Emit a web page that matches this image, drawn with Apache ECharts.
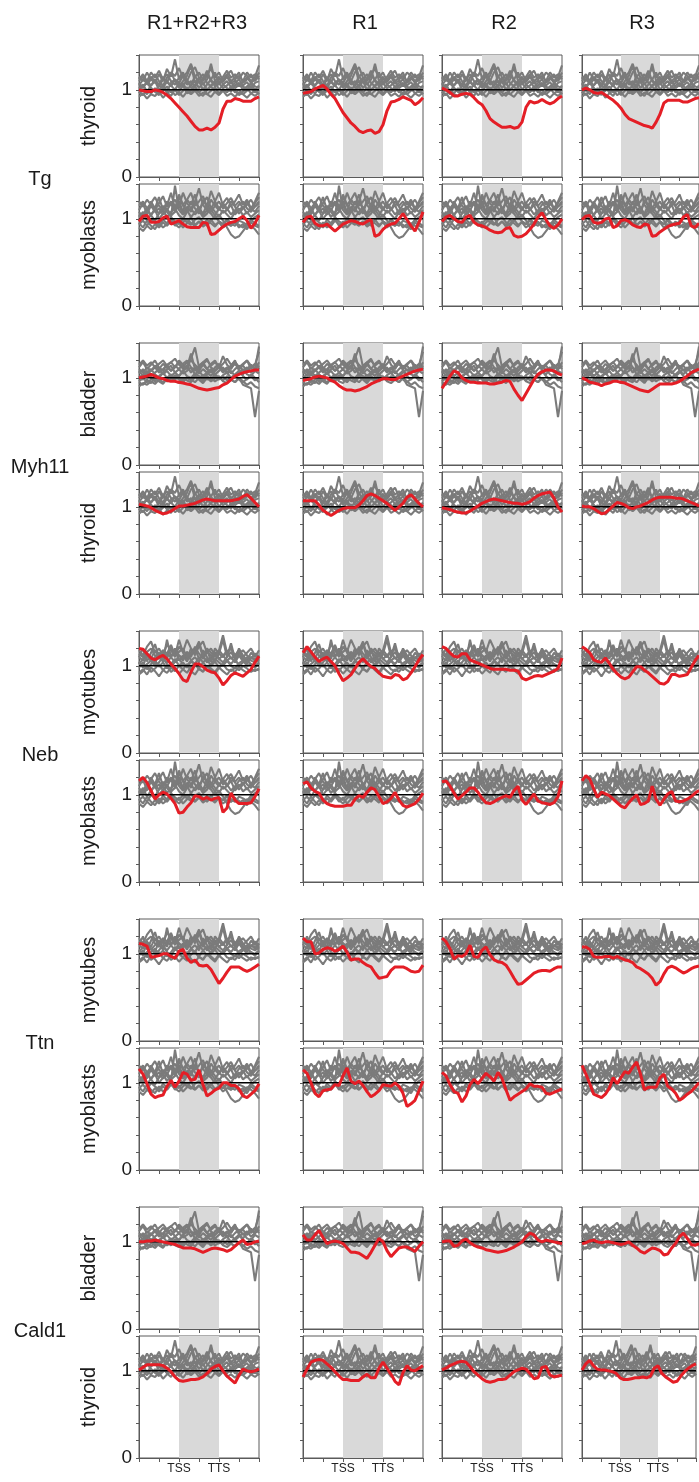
<!DOCTYPE html>
<html>
<head>
<meta charset="utf-8">
<script src="https://cdn.jsdelivr.net/npm/echarts@6.0.0/dist/echarts.min.js"></script>
<style>
html,body{margin:0;padding:0;background:#fff;}
#chart{width:699px;height:1482px;}
</style>
</head>
<body>
<div id="chart"></div>
<script>
// ---------------- DATA ----------------
const COL_TITLES = ['R1+R2+R3', 'R1', 'R2', 'R3'];
const GENES = ['Tg', 'Myh11', 'Neb', 'Ttn', 'Cald1'];
const TISSUES = ['thyroid', 'myoblasts', 'bladder', 'thyroid', 'myotubes', 'myoblasts', 'myotubes', 'myoblasts', 'bladder', 'thyroid'];
const X_TICK_LABELS = {2: 'TSS', 4: 'TTS'};
const Y_TICK_LABELS = {0: '0', 1: '1'};
const SHADE_RANGE = [2, 4];
const REF_LEVEL = 1;
const XPTS = [0,0.2,0.4,0.6,0.8,1,1.2,1.4,1.6,1.8,2,2.2,2.4,2.6,2.8,3,3.2,3.4,3.6,3.8,4,4.2,4.4,4.6,4.8,5,5.2,5.4,5.6,5.8,6];

// red profiles: one array per column (R1+R2+R3, R1, R2, R3)
const red_Tg_thyroid = [
  [1.0,0.99,0.98,0.98,1.0,0.99,0.97,0.94,0.9,0.85,0.8,0.75,0.7,0.64,0.58,0.54,0.54,0.56,0.54,0.57,0.62,0.78,0.87,0.87,0.9,0.89,0.87,0.87,0.87,0.9,0.92],
  [0.96,0.97,0.98,1.01,1.03,1.05,1.01,0.95,0.9,0.82,0.74,0.68,0.62,0.58,0.53,0.51,0.53,0.54,0.5,0.52,0.6,0.76,0.86,0.87,0.89,0.92,0.9,0.88,0.83,0.86,0.91],
  [1.02,1.0,0.97,0.93,0.93,0.95,0.96,0.95,0.91,0.86,0.83,0.76,0.67,0.63,0.6,0.57,0.57,0.58,0.56,0.57,0.63,0.8,0.87,0.85,0.86,0.89,0.86,0.84,0.86,0.9,0.93],
  [1.0,1.02,1.0,0.97,0.96,0.97,0.94,0.91,0.88,0.84,0.79,0.72,0.67,0.65,0.63,0.61,0.59,0.58,0.56,0.63,0.72,0.85,0.88,0.88,0.88,0.88,0.86,0.86,0.88,0.9,0.91]
];
const red_Tg_myoblasts = [
  [0.97,1.03,1.04,0.96,0.96,0.97,1.01,1.03,0.94,0.96,0.98,0.94,0.91,0.9,0.9,0.9,0.96,0.95,0.82,0.83,0.87,0.91,0.94,0.96,0.97,1.0,1.03,0.98,0.89,0.95,1.04],
  [0.96,1.02,1.03,0.95,0.92,0.92,0.94,0.9,0.86,0.9,0.94,0.96,0.98,0.97,0.95,0.94,0.97,0.99,0.8,0.82,0.88,0.92,0.94,0.95,1.0,1.06,0.99,0.92,0.86,0.96,1.08],
  [0.97,1.02,1.04,1.0,0.97,0.96,1.02,1.04,0.96,0.93,0.92,0.9,0.87,0.85,0.84,0.85,0.89,0.9,0.81,0.79,0.8,0.83,0.88,0.94,1.02,1.07,0.99,0.92,0.89,0.93,1.0],
  [0.99,1.03,1.04,0.96,0.95,0.96,1.0,1.01,0.9,0.92,0.98,0.99,0.97,0.93,0.91,0.9,0.94,0.93,0.8,0.81,0.85,0.88,0.91,0.93,0.94,0.95,1.02,1.05,0.92,0.9,0.95]
];
const red_Myh11_bladder = [
  [1.0,1.01,1.02,1.04,1.02,1.0,0.99,0.97,0.96,0.96,0.95,0.94,0.93,0.92,0.9,0.88,0.87,0.86,0.87,0.88,0.89,0.92,0.94,0.98,1.02,1.04,1.06,1.07,1.08,1.09,1.09],
  [0.97,0.98,0.99,1.01,1.02,1.01,1.0,0.97,0.95,0.91,0.88,0.86,0.86,0.85,0.86,0.88,0.9,0.93,0.95,0.97,0.99,0.99,0.98,0.98,1.0,1.02,1.04,1.06,1.08,1.09,1.1],
  [0.88,0.95,1.02,1.08,1.06,1.0,0.97,0.95,0.95,0.94,0.94,0.94,0.93,0.93,0.94,0.95,0.97,0.96,0.87,0.8,0.74,0.82,0.9,0.98,1.04,1.07,1.09,1.09,1.08,1.05,1.03],
  [1.0,0.98,0.95,0.94,0.93,0.91,0.93,0.94,0.96,0.96,0.95,0.94,0.92,0.9,0.88,0.86,0.85,0.84,0.87,0.9,0.93,0.93,0.93,0.93,0.94,0.96,0.99,1.02,1.06,1.08,1.1]
];
const red_Myh11_thyroid = [
  [1.03,1.02,1.01,0.99,0.96,0.94,0.92,0.93,0.95,0.98,1.01,1.01,1.02,1.03,1.04,1.06,1.08,1.09,1.08,1.07,1.07,1.07,1.07,1.07,1.08,1.09,1.12,1.14,1.1,1.05,1.0],
  [1.07,1.07,1.07,1.07,1.02,0.96,0.93,0.9,0.93,0.96,0.98,0.99,0.99,0.99,1.02,1.07,1.13,1.15,1.13,1.1,1.07,1.04,1.0,0.96,1.0,1.04,1.11,1.14,1.09,1.04,1.0],
  [0.99,0.98,0.97,0.95,0.94,0.93,0.93,0.95,0.98,1.01,1.04,1.06,1.08,1.09,1.08,1.07,1.06,1.05,1.04,1.04,1.03,1.04,1.06,1.1,1.13,1.15,1.16,1.17,1.1,1.0,0.94],
  [1.01,1.0,1.0,0.98,0.95,0.92,0.93,0.97,1.01,1.05,1.04,1.02,0.99,0.98,1.0,1.01,1.03,1.05,1.08,1.1,1.11,1.11,1.11,1.11,1.1,1.1,1.09,1.07,1.05,1.03,1.01]
];
const red_Neb_myotubes = [
  [1.2,1.19,1.14,1.09,1.07,1.1,1.12,1.08,1.02,0.97,0.91,0.84,0.82,0.93,1.02,1.02,0.99,0.95,0.93,0.92,0.86,0.78,0.83,0.89,0.92,0.9,0.88,0.92,0.96,1.04,1.11],
  [1.15,1.22,1.16,1.1,1.05,1.08,1.1,1.05,1.0,0.91,0.83,0.86,0.9,0.97,1.04,1.08,1.03,0.99,0.97,0.92,0.88,0.87,0.86,0.9,0.89,0.84,0.86,0.92,0.99,1.07,1.13],
  [1.22,1.2,1.15,1.11,1.1,1.14,1.14,1.07,1.05,1.03,1.01,0.99,0.97,0.96,0.96,0.96,0.96,0.95,0.95,0.94,0.86,0.84,0.86,0.88,0.89,0.88,0.9,0.92,0.94,0.97,1.09],
  [1.22,1.19,1.15,1.07,1.05,1.04,1.09,1.03,0.96,0.91,0.87,0.85,0.87,0.93,0.99,0.99,0.95,0.92,0.88,0.84,0.8,0.79,0.82,0.9,0.9,0.88,0.89,0.9,0.98,1.06,1.12]
];
const red_Neb_myoblasts = [
  [1.16,1.2,1.14,1.05,0.95,1.0,1.03,1.01,0.96,0.9,0.79,0.8,0.86,0.91,0.99,0.98,0.95,0.97,0.94,0.96,0.97,0.8,0.85,1.02,0.94,0.9,0.9,0.9,0.91,0.98,1.07],
  [1.13,1.15,1.08,1.04,1.02,0.94,0.9,0.88,0.87,0.87,0.87,0.88,0.88,0.95,0.99,0.97,1.03,1.08,1.06,0.98,0.9,0.92,0.96,1.03,0.94,0.88,0.86,0.88,0.9,0.95,1.02],
  [1.15,1.16,1.1,1.02,0.95,0.99,1.03,1.08,1.08,1.03,0.96,0.91,0.9,0.92,0.95,0.97,0.99,0.97,1.05,1.1,0.94,0.89,0.95,1.01,0.93,0.91,0.9,0.89,0.91,0.98,1.16],
  [1.16,1.22,1.18,1.07,0.97,1.03,1.01,0.99,0.95,0.91,0.87,0.85,0.91,0.96,1.0,0.89,0.9,0.93,1.1,0.95,0.88,0.95,1.01,1.04,0.93,0.92,0.93,0.95,0.98,1.02,1.05]
];
const red_Ttn_myotubes = [
  [1.12,1.11,1.09,0.96,0.97,0.98,1.0,1.0,0.97,0.95,1.03,1.05,0.95,0.9,0.93,0.87,0.86,0.87,0.82,0.74,0.66,0.72,0.79,0.85,0.85,0.85,0.82,0.8,0.82,0.85,0.88],
  [1.18,1.14,1.14,1.0,1.01,1.05,1.07,1.06,1.03,1.05,1.09,1.02,0.93,0.94,0.94,0.9,0.87,0.85,0.78,0.72,0.73,0.74,0.81,0.85,0.85,0.85,0.83,0.8,0.79,0.8,0.87],
  [1.18,1.14,1.06,0.94,0.98,0.97,1.0,1.1,0.97,0.96,1.04,1.08,0.99,0.93,0.91,0.9,0.87,0.8,0.72,0.65,0.66,0.7,0.74,0.78,0.8,0.81,0.81,0.8,0.83,0.85,0.85],
  [1.08,1.08,1.05,0.97,0.96,0.96,0.97,0.97,0.95,0.97,0.95,0.93,0.92,0.9,0.85,0.83,0.8,0.77,0.72,0.64,0.68,0.77,0.84,0.86,0.84,0.81,0.78,0.8,0.83,0.85,0.86]
];
const red_Ttn_myoblasts = [
  [1.16,1.1,0.99,0.87,0.83,0.85,0.86,0.96,1.03,0.95,1.02,1.12,1.1,1.03,1.04,1.15,0.98,0.85,0.88,0.92,0.94,1.0,1.0,0.97,0.97,0.93,0.85,0.83,0.87,0.91,0.99],
  [1.15,1.11,1.0,0.88,0.84,0.91,0.92,0.93,0.98,0.97,1.08,1.17,1.02,0.99,1.02,0.97,0.9,0.84,0.87,0.91,0.98,0.97,0.96,1.0,0.96,0.88,0.73,0.76,0.8,0.91,1.02],
  [1.12,1.08,0.98,0.9,0.88,0.78,0.85,0.98,1.04,0.99,1.05,1.11,1.07,1.02,1.12,1.05,0.92,0.8,0.84,0.87,0.9,0.93,0.99,0.96,0.96,0.95,0.88,0.87,0.89,0.91,0.93],
  [1.2,1.1,0.99,0.87,0.85,0.83,0.87,0.94,1.06,0.99,1.06,1.13,1.11,1.18,1.24,1.1,0.92,0.95,0.95,0.95,1.06,1.1,0.96,0.93,0.88,0.8,0.83,0.87,0.9,0.95,1.0]
];
const red_Cald1_bladder = [
  [1.0,1.0,1.01,1.01,1.02,1.01,1.0,0.99,0.98,0.97,0.95,0.93,0.93,0.93,0.92,0.9,0.88,0.9,0.92,0.93,0.92,0.91,0.89,0.91,0.95,0.99,1.02,0.97,0.98,1.0,1.01],
  [1.08,1.02,1.02,1.08,1.13,1.05,0.98,1.0,1.01,1.0,0.98,0.93,0.88,0.88,0.87,0.84,0.81,0.88,0.96,1.04,1.0,0.9,0.83,0.88,0.93,0.94,0.94,0.92,0.89,0.95,1.0],
  [1.0,1.01,1.01,0.95,0.96,1.01,1.03,0.99,0.96,0.94,0.93,0.91,0.9,0.89,0.88,0.89,0.9,0.92,0.94,0.97,1.0,1.06,1.1,1.08,1.02,1.0,1.02,1.01,1.0,0.99,0.98],
  [0.98,0.99,1.01,1.02,1.0,0.99,1.0,1.0,0.99,0.98,0.97,0.98,1.0,0.96,0.93,0.89,0.87,0.9,0.93,0.92,0.9,0.85,0.86,0.93,0.98,1.06,1.1,1.04,0.97,0.96,0.98]
];
const red_Cald1_thyroid = [
  [1.01,1.04,1.07,1.07,1.07,1.07,1.06,1.03,0.99,0.93,0.89,0.88,0.89,0.9,0.9,0.91,0.93,0.97,1.02,1.05,1.07,1.0,0.94,0.9,0.86,0.95,1.02,1.0,0.99,1.0,1.02],
  [0.93,1.02,1.1,1.12,1.13,1.12,1.08,1.04,0.99,0.94,0.9,0.9,0.89,0.89,0.89,0.93,0.96,0.92,0.92,1.03,1.1,1.03,0.96,0.88,0.84,0.98,1.06,1.01,1.0,1.03,1.06],
  [1.01,1.03,1.06,1.08,1.1,1.11,1.1,1.05,0.99,0.95,0.91,0.88,0.87,0.88,0.9,0.9,0.91,0.95,0.99,1.01,1.03,1.02,0.97,0.91,0.92,1.04,1.05,0.95,0.93,0.94,0.95],
  [1.01,1.08,1.12,1.06,1.02,1.01,1.01,1.0,0.99,0.97,0.92,0.9,0.9,0.91,0.92,0.92,0.93,0.92,0.94,1.03,1.06,0.97,0.93,0.9,0.87,0.88,0.94,0.99,1.03,1.06,1.08]
];
const RED_ROWS = [red_Tg_thyroid, red_Tg_myoblasts, red_Myh11_bladder, red_Myh11_thyroid, red_Neb_myotubes, red_Neb_myoblasts, red_Ttn_myotubes, red_Ttn_myoblasts, red_Cald1_bladder, red_Cald1_thyroid];

// grey control profiles, one set per tissue
const gray_thyroid = [
  [1.05,1.12,1.08,1.15,1.1,1.04,1.12,1.18,1.1,1.06,1.14,1.2,1.1,1.05,1.16,1.08,1.12,1.22,1.1,1.06,1.13,1.09,1.15,1.07,1.11,1.04,1.1,1.14,1.08,1.12,1.2],
  [0.98,0.94,1.0,0.96,1.02,0.95,0.99,1.04,0.97,1.0,0.94,0.99,1.03,0.96,1.01,0.97,0.93,1.0,1.04,0.98,0.95,1.01,0.97,1.03,0.99,0.94,0.98,1.02,0.96,0.99,0.95],
  [1.12,1.18,1.1,1.2,1.14,1.22,1.12,1.08,1.2,1.16,1.25,1.14,1.2,1.3,1.15,1.2,1.12,1.18,1.24,1.14,1.2,1.1,1.17,1.22,1.12,1.16,1.1,1.2,1.14,1.18,1.12],
  [1.02,1.06,0.98,1.05,1.1,1.0,1.06,0.98,1.08,1.12,1.02,1.08,0.99,1.06,1.1,1.02,1.08,1.0,1.05,1.1,1.0,1.06,1.02,0.98,1.05,1.08,1.0,1.04,1.07,1.0,1.05],
  [0.92,0.96,0.9,0.95,0.93,0.98,0.91,0.96,1.0,0.94,0.97,0.92,0.98,0.95,0.99,0.93,0.97,0.95,0.92,0.98,0.94,0.99,0.93,0.96,0.92,0.97,0.95,0.91,0.96,0.93,0.97],
  [1.08,1.02,1.1,1.05,1.12,1.06,1.15,1.09,1.04,1.12,1.08,1.16,1.06,1.1,1.03,1.12,1.18,1.08,1.04,1.1,1.15,1.06,1.1,1.03,1.08,1.12,1.05,1.09,1.02,1.08,1.1],
  [1.15,1.1,1.2,1.12,1.08,1.18,1.1,1.24,1.15,1.35,1.12,1.18,1.1,1.2,1.26,1.14,1.1,1.16,1.12,1.2,1.08,1.15,1.22,1.14,1.18,1.12,1.2,1.16,1.1,1.15,1.28],
  [1.0,1.04,1.08,1.02,0.98,1.05,1.02,1.1,1.05,1.0,1.08,1.04,1.12,1.02,1.06,1.1,1.0,1.06,1.12,1.04,1.08,1.02,1.05,1.1,1.02,1.06,1.04,1.0,1.08,1.04,1.02],
  [0.96,1.0,0.95,1.02,0.98,0.94,1.03,0.97,0.93,1.01,0.98,1.05,0.96,0.99,1.04,0.97,1.02,0.95,0.99,1.03,0.96,1.0,0.98,1.04,0.97,1.0,0.95,0.99,1.03,0.97,1.0],
  [1.1,1.15,1.06,1.12,1.18,1.1,1.05,1.14,1.2,1.1,1.04,1.1,1.16,1.28,1.08,1.14,1.06,1.12,1.3,1.1,1.06,1.12,1.18,1.1,1.14,1.2,1.08,1.12,1.18,1.1,1.16]
];
const gray_myoblasts = [
  [1.1,1.18,1.05,1.2,1.12,1.25,1.1,1.15,1.3,1.12,1.2,1.08,1.22,1.16,1.28,1.1,1.18,1.25,1.12,1.2,1.3,1.15,1.1,1.2,1.14,1.06,1.12,1.2,1.1,1.18,1.25],
  [0.95,0.9,0.98,0.92,0.88,0.96,0.9,0.94,1.0,0.92,0.97,0.9,0.95,1.02,0.93,0.97,0.91,0.95,0.99,0.93,0.96,0.9,0.94,0.92,0.97,0.9,0.94,0.88,0.96,0.92,0.9],
  [1.05,1.0,1.1,1.04,1.12,1.06,1.15,1.08,1.02,1.38,1.1,1.05,1.14,1.08,1.2,1.12,1.06,1.16,1.1,1.04,1.12,1.07,1.1,1.16,1.05,1.1,1.14,1.06,1.12,1.08,1.15],
  [1.02,1.08,0.98,1.05,1.1,1.0,1.06,1.12,1.04,1.08,1.16,1.05,1.1,1.02,1.08,1.14,1.04,1.1,1.06,1.0,1.05,0.98,0.9,0.82,0.78,0.8,0.86,0.92,0.98,1.02,1.05],
  [0.9,0.86,0.92,0.88,0.94,0.9,0.96,0.92,0.98,0.94,0.9,0.96,1.0,0.95,0.92,0.97,0.93,0.99,0.95,0.91,0.97,0.94,0.98,0.92,0.96,0.93,0.9,0.95,0.92,0.88,0.82],
  [1.15,1.2,1.12,1.18,1.25,1.15,1.1,1.2,1.16,1.22,1.14,1.3,1.18,1.12,1.2,1.35,1.16,1.1,1.22,1.15,1.2,1.12,1.18,1.24,1.15,1.2,1.12,1.16,1.22,1.14,1.2],
  [1.0,1.05,1.12,1.04,0.98,1.06,1.1,1.02,1.08,1.12,1.04,1.0,1.08,1.12,1.05,1.1,1.02,1.06,1.14,1.08,1.02,1.1,1.05,1.0,1.08,1.12,1.04,1.08,1.02,1.06,1.1],
  [1.08,1.02,1.06,1.15,1.08,1.12,1.05,1.1,1.18,1.08,1.25,1.15,1.1,1.2,1.12,1.06,1.22,1.14,1.08,1.15,1.1,1.18,1.12,1.05,1.1,1.16,1.2,1.12,1.08,1.14,1.18],
  [0.94,0.98,0.92,1.0,0.96,0.92,0.99,0.95,1.02,0.97,0.94,1.0,0.96,0.93,0.99,1.02,0.96,0.92,0.98,1.03,0.97,0.94,1.0,0.95,0.92,0.98,0.96,0.93,0.99,0.95,0.92],
  [1.2,1.14,1.22,1.16,1.1,1.18,1.26,1.14,1.2,1.12,1.28,1.16,1.22,1.3,1.15,1.2,1.26,1.14,1.32,1.2,1.12,1.18,1.24,1.15,1.2,1.28,1.16,1.22,1.12,1.2,1.3]
];
const gray_bladder = [
  [1.12,1.18,1.1,1.15,1.2,1.12,1.08,1.15,1.18,1.12,1.2,1.15,1.1,1.22,1.35,1.12,1.18,1.1,1.16,1.2,1.12,1.25,1.15,1.1,1.18,1.12,1.15,1.2,1.1,1.15,1.3],
  [0.95,0.92,0.98,0.94,1.0,0.96,0.93,0.99,1.02,0.96,0.94,1.0,0.97,0.95,1.01,0.98,0.94,1.0,0.96,0.99,1.02,0.96,0.94,0.98,0.95,1.0,0.92,0.9,0.88,0.55,0.85],
  [1.05,1.1,1.04,1.08,1.12,1.06,1.1,1.15,1.08,1.12,1.18,1.1,1.14,1.06,1.12,1.08,1.15,1.1,1.06,1.12,1.16,1.08,1.12,1.05,1.1,1.14,1.08,1.12,1.06,1.1,1.14],
  [0.9,0.94,0.92,0.96,0.93,0.98,0.95,1.0,0.96,1.02,0.98,0.95,1.0,0.97,1.03,0.99,0.96,1.02,0.98,1.04,1.0,0.97,1.02,0.98,0.95,1.0,0.96,0.92,0.95,0.9,0.88],
  [1.15,1.2,1.14,1.18,1.12,1.16,1.2,1.14,1.18,1.22,1.15,1.12,1.18,1.2,1.15,1.1,1.16,1.2,1.14,1.18,1.12,1.16,1.22,1.15,1.18,1.12,1.16,1.2,1.14,1.1,1.18],
  [1.0,1.04,1.08,1.02,1.06,1.1,1.04,1.08,1.02,1.06,1.1,1.05,1.08,1.12,1.04,1.08,1.02,1.06,1.1,1.04,1.08,1.12,1.05,1.08,1.02,1.06,1.1,1.04,1.02,1.08,1.05],
  [1.08,1.02,1.06,1.1,1.04,1.0,1.06,1.1,1.14,1.06,1.02,1.08,1.12,1.28,1.1,1.05,1.1,1.06,1.02,1.08,1.12,1.06,1.1,1.14,1.2,1.08,1.04,1.1,1.15,1.1,1.36],
  [0.96,1.0,0.95,0.98,1.02,0.97,1.0,0.96,0.99,1.03,1.0,0.97,1.01,0.98,0.95,1.0,1.03,0.98,1.0,0.96,0.99,1.02,0.97,1.0,1.03,0.98,0.95,0.99,1.02,0.97,1.0],
  [1.1,1.06,1.12,1.08,1.14,1.1,1.16,1.12,1.08,1.14,1.1,1.16,1.2,1.12,1.08,1.14,1.18,1.22,1.12,1.08,1.15,1.1,1.06,1.12,1.16,1.1,1.14,1.08,1.12,1.16,1.1],
  [1.02,0.98,1.04,1.0,0.96,1.02,1.06,1.0,1.04,0.98,1.02,1.08,1.02,1.0,1.05,1.02,0.98,1.04,1.08,1.02,0.98,1.03,1.06,1.0,1.04,1.08,1.02,0.98,1.04,1.0,0.95]
];
const gray_myotubes = [
  [1.1,1.2,1.05,1.15,1.25,1.1,1.18,1.08,1.22,1.12,1.3,1.15,1.08,1.2,1.12,1.25,1.1,1.18,1.06,1.2,1.14,1.3,1.1,1.16,1.08,1.2,1.12,1.06,1.15,1.1,1.18],
  [0.92,0.96,0.9,0.98,0.94,0.88,0.95,1.0,0.93,0.97,0.91,0.96,1.02,0.94,0.9,0.97,0.93,1.0,0.95,0.91,0.98,0.94,0.9,0.96,0.93,0.99,0.95,0.92,0.96,0.94,0.97],
  [1.05,1.0,1.12,1.06,1.02,1.15,1.08,1.04,1.1,1.18,1.06,1.12,1.05,1.15,1.2,1.08,1.12,1.04,1.1,1.16,1.08,1.12,1.06,1.1,1.04,1.12,1.08,1.02,1.1,1.06,1.12],
  [1.18,1.12,1.22,1.28,1.15,1.2,1.12,1.25,1.18,1.1,1.22,1.16,1.3,1.2,1.14,1.22,1.28,1.15,1.2,1.12,1.18,1.35,1.15,1.2,1.12,1.18,1.1,1.15,1.2,1.12,1.08],
  [0.98,1.04,0.96,1.02,1.06,0.99,1.04,0.97,1.02,1.08,1.0,1.04,0.98,1.05,1.02,0.97,1.04,1.08,1.0,1.05,0.98,1.02,1.06,1.0,0.97,1.03,1.06,1.0,1.02,0.98,1.03],
  [1.1,1.06,1.14,1.08,1.18,1.1,1.05,1.14,1.1,1.2,1.12,1.06,1.16,1.1,1.22,1.14,1.08,1.16,1.12,1.06,1.14,1.1,1.18,1.08,1.12,1.16,1.08,1.04,1.1,1.08,1.05],
  [0.9,0.94,1.0,0.93,0.97,1.02,0.95,0.92,0.98,0.94,1.0,0.96,0.92,0.99,1.03,0.96,0.94,1.0,0.97,0.93,0.99,1.02,0.96,0.94,0.98,0.95,1.0,0.97,0.93,0.96,0.95],
  [1.02,1.08,1.14,1.05,1.1,1.15,1.06,1.3,1.1,1.04,1.12,1.08,1.16,1.06,1.1,1.04,1.18,1.1,1.05,1.14,1.08,1.04,1.1,1.26,1.08,1.12,1.05,1.1,1.06,1.04,1.08],
  [1.14,1.1,1.16,1.2,1.12,1.08,1.18,1.14,1.24,1.12,1.16,1.2,1.1,1.14,1.18,1.28,1.12,1.2,1.15,1.1,1.18,1.12,1.16,1.2,1.1,1.14,1.18,1.12,1.08,1.14,1.1],
  [1.04,0.98,1.02,1.06,1.0,1.04,1.1,1.02,0.98,1.05,1.08,1.02,1.0,1.06,1.02,1.1,1.04,0.98,1.02,1.08,1.04,1.0,1.06,1.02,1.08,1.0,1.04,1.06,1.02,1.0,1.04]
];
const GRAY_BY_TISSUE = {thyroid: gray_thyroid, myoblasts: gray_myoblasts, bladder: gray_bladder, myotubes: gray_myotubes};

// ---------------- LAYOUT ----------------
const COL_LEFT = [139, 303, 442, 582];
const PANEL_W = 120, PANEL_H = 122;
const GENE_STEP = 288, PAIR_OFFSET = 129, FIRST_TOP = 55;
function rowTop(r) { return FIRST_TOP + GENE_STEP * Math.floor(r / 2) + (r % 2) * PAIR_OFFSET; }
const FONT = '"Liberation Sans", Arial, Helvetica, sans-serif';
const FRAME = '#5a5a5a';

const grids = [], xAxes = [], yAxes = [], series = [], graphics = [];
const toPts = arr => XPTS.map((x, i) => [x, arr[i]]);

for (let r = 0; r < 10; r++) {
  for (let c = 0; c < 4; c++) {
    const p = grids.length;
    grids.push({left: COL_LEFT[c], top: rowTop(r), width: PANEL_W, height: PANEL_H,
      show: true, borderColor: FRAME, borderWidth: 1, backgroundColor: 'transparent'});
    xAxes.push({gridIndex: p, type: 'value', min: 0, max: 6, interval: 1,
      axisLine: {show: true, onZero: false, lineStyle: {color: FRAME, width: 1}},
      axisTick: {show: true, length: 4, lineStyle: {color: FRAME}},
      splitLine: {show: false},
      axisLabel: {show: r === 9, margin: 5, fontSize: 12, color: '#222', fontFamily: FONT,
        formatter: v => X_TICK_LABELS[Math.round(v)] || ''}
    });
    yAxes.push({gridIndex: p, type: 'value', min: 0, max: 1.4, interval: 0.2,
      axisLine: {show: true, onZero: false, lineStyle: {color: FRAME, width: 1}},
      axisTick: {show: true, length: 3, lineStyle: {color: FRAME}},
      splitLine: {show: false},
      axisLabel: {show: c === 0, margin: 7, fontSize: 19, color: '#1a1a1a', fontFamily: FONT,
        formatter: v => { const k = Math.round(v * 10) / 10; return Y_TICK_LABELS[k] !== undefined && Math.abs(v - k) < 1e-6 ? Y_TICK_LABELS[k] : ''; }}
    });
    // shaded gene body (TSS..TTS)
    series.push({type: 'line', xAxisIndex: p, yAxisIndex: p, data: [[0, REF_LEVEL], [6, REF_LEVEL]],
      symbol: 'none', lineStyle: {width: 0, opacity: 0}, silent: true, z: 1, animation: false,
      markArea: {silent: true, itemStyle: {color: '#d9d9d9'}, data: [[{xAxis: SHADE_RANGE[0]}, {xAxis: SHADE_RANGE[1]}]]}
    });
    GRAY_BY_TISSUE[TISSUES[r]].forEach(g => {
      series.push({type: 'line', xAxisIndex: p, yAxisIndex: p, data: toPts(g), symbol: 'none',
        lineStyle: {color: '#7b7b7b', width: 2.1}, silent: true, z: 2, animation: false});
    });
    series.push({type: 'line', xAxisIndex: p, yAxisIndex: p, data: [[0, REF_LEVEL], [6, REF_LEVEL]], symbol: 'none',
      lineStyle: {color: '#000', width: 1.5}, silent: true, z: 3, animation: false});
    series.push({type: 'line', xAxisIndex: p, yAxisIndex: p, data: toPts(RED_ROWS[r][c]), symbol: 'none',
      lineStyle: {color: '#e41e26', width: 3}, silent: true, z: 4, animation: false});
  }
  // tissue label
  graphics.push({type: 'text', x: 89, y: rowTop(r) + PANEL_H / 2, rotation: Math.PI / 2,
    style: {text: TISSUES[r], fontSize: 20, fontFamily: FONT, fill: '#1a1a1a',
      align: 'center', verticalAlign: 'middle', textAlign: 'center', textVerticalAlign: 'middle'}});
}
// gene labels
GENES.forEach((g, i) => {
  graphics.push({type: 'text', x: 40, y: rowTop(2 * i) + PANEL_H + 2,
    style: {text: g, fontSize: 20, fontFamily: FONT, fill: '#1a1a1a',
      align: 'center', verticalAlign: 'middle', textAlign: 'center', textVerticalAlign: 'middle'}});
});
// column titles
const TITLE_X = [197, 365, 504, 642];
COL_TITLES.forEach((t, c) => {
  graphics.push({type: 'text', x: TITLE_X[c], y: 23,
    style: {text: t, fontSize: 20, fontFamily: FONT, fill: '#1a1a1a',
      align: 'center', verticalAlign: 'middle', textAlign: 'center', textVerticalAlign: 'middle'}});
});

const chart = echarts.init(document.getElementById('chart'), null, {renderer: 'canvas'});
chart.setOption({
  animation: false,
  backgroundColor: '#ffffff',
  grid: grids, xAxis: xAxes, yAxis: yAxes, series: series, graphic: graphics
});
</script>
</body>
</html>
